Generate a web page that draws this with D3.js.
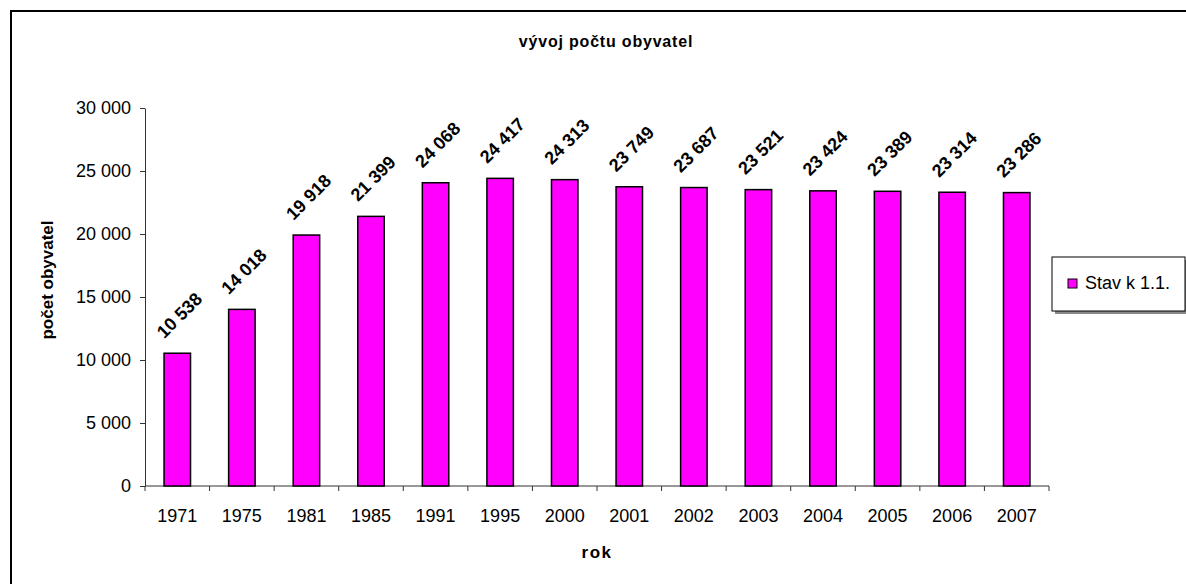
<!DOCTYPE html>
<html>
<head>
<meta charset="utf-8">
<script src="https://cdn.jsdelivr.net/npm/d3@7"></script>
<style>
  body { margin: 0; background: #fff; }
  text { font-family: "Liberation Sans", Arial, sans-serif; }
</style>
</head>
<body>
<div id="chart"></div>
<script>
// data
var years = ["1971", "1975", "1981", "1985", "1991", "1995", "2000", "2001", "2002", "2003", "2004", "2005", "2006", "2007"];
var population = [10538, 14018, 19918, 21399, 24068, 24417, 24313, 23749, 23687, 23521, 23424, 23389, 23314, 23286];
var yTicks = [0, 5000, 10000, 15000, 20000, 25000, 30000];
var seriesName = "Stav k 1.1.";

var svgWidth = 1186;
var svgHeight = 584;
var margin = { top: 108, right: 137, bottom: 98, left: 145 };
var width = 1049 - margin.left;
var height = 486 - margin.top;

var fmt = d3.formatLocale({ decimal: ",", thousands: "\u00a0", grouping: [3], currency: ["", ""] }).format(",d");

var svg = d3.select("#chart")
  .append("svg")
  .attr("width", svgWidth)
  .attr("height", svgHeight);

// outer frame (runs off the right and bottom edges)
svg.append("rect")
  .attr("x", 11).attr("y", 11)
  .attr("width", svgWidth).attr("height", svgHeight)
  .attr("fill", "#fff")
  .attr("stroke", "#000")
  .attr("stroke-width", 2);

var g = svg.append("g")
  .attr("transform", `translate(${margin.left}, ${margin.top})`);

var x = d3.scaleBand().domain(years).range([0, width]).padding(0);
var y = d3.scaleLinear().domain([0, 30000]).range([height, 0]);

// y axis
var yAxis = d3.axisLeft(y).tickValues(yTicks).tickSize(5).tickSizeOuter(0).tickFormat(fmt);
var yg = g.append("g").call(yAxis);
yg.select(".domain").attr("stroke", "#333");
yg.selectAll(".tick line").attr("stroke", "#333");
yg.selectAll(".tick text")
  .attr("x", -14)
  .attr("font-size", 18)
  .attr("font-family", "Liberation Sans, Arial, sans-serif")
  .attr("fill", "#000");

// x axis: ticks on the band boundaries
var xg = g.append("g").attr("transform", `translate(0, ${height})`);
xg.append("line")
  .attr("x1", 0).attr("x2", width)
  .attr("stroke", "#333");
xg.selectAll(".bt")
  .data(years.concat(["end"]))
  .enter()
  .append("line")
  .attr("class", "bt")
  .attr("x1", (d, i) => i < years.length ? x(d) : width)
  .attr("x2", (d, i) => i < years.length ? x(d) : width)
  .attr("y1", 0).attr("y2", 5)
  .attr("stroke", "#333");
xg.selectAll(".lbl")
  .data(years)
  .enter()
  .append("text")
  .attr("class", "lbl")
  .attr("x", d => x(d) + x.bandwidth() / 2)
  .attr("y", 36)
  .attr("text-anchor", "middle")
  .attr("font-size", 18)
  .text(d => d);

// bars
var barW = x.bandwidth() * 0.41;
g.selectAll(".bar")
  .data(population)
  .enter()
  .append("rect")
  .attr("class", "bar")
  .attr("x", (d, i) => x(years[i]) + (x.bandwidth() - barW) / 2)
  .attr("y", d => y(d))
  .attr("width", barW)
  .attr("height", d => height - y(d))
  .attr("fill", "#ff00ff")
  .attr("stroke", "#000")
  .attr("stroke-width", 1.5);

// value labels
g.selectAll(".val")
  .data(population)
  .enter()
  .append("text")
  .attr("class", "val")
  .attr("transform", (d, i) => `translate(${x(years[i]) + x.bandwidth() / 2 + 2}, ${y(d) - 38}) rotate(-45)`)
  .attr("text-anchor", "middle")
  .attr("dy", "0.35em")
  .attr("font-size", 18)
  .attr("font-weight", "bold")
  .text(d => fmt(d));

// titles
svg.append("text")
  .attr("x", 606).attr("y", 47)
  .attr("text-anchor", "middle")
  .attr("font-size", 16)
  .attr("font-weight", "bold")
  .attr("letter-spacing", 0.8)
  .text("vývoj počtu obyvatel");

svg.append("text")
  .attr("x", 597).attr("y", 558)
  .attr("text-anchor", "middle")
  .attr("font-size", 17)
  .attr("font-weight", "bold")
  .attr("letter-spacing", 1.5)
  .text("rok");

svg.append("text")
  .attr("transform", "translate(53, 280) rotate(-90)")
  .attr("text-anchor", "middle")
  .attr("font-size", 17)
  .attr("font-weight", "bold")
  .text("počet obyvatel");

// legend
var lg = svg.append("g").attr("transform", "translate(1052, 257)");
lg.append("rect")
  .attr("x", 3).attr("y", 3).attr("width", 133).attr("height", 54)
  .attr("fill", "#888");
lg.append("rect")
  .attr("width", 133).attr("height", 54)
  .attr("fill", "#fff")
  .attr("stroke", "#000")
  .attr("stroke-width", 1);
lg.append("rect")
  .attr("x", 16).attr("y", 22).attr("width", 9).attr("height", 9)
  .attr("fill", "#ff00ff")
  .attr("stroke", "#000")
  .attr("stroke-width", 1);
lg.append("text")
  .attr("x", 33).attr("y", 32)
  .attr("font-size", 18)
  .text(seriesName);
</script>
</body>
</html>
